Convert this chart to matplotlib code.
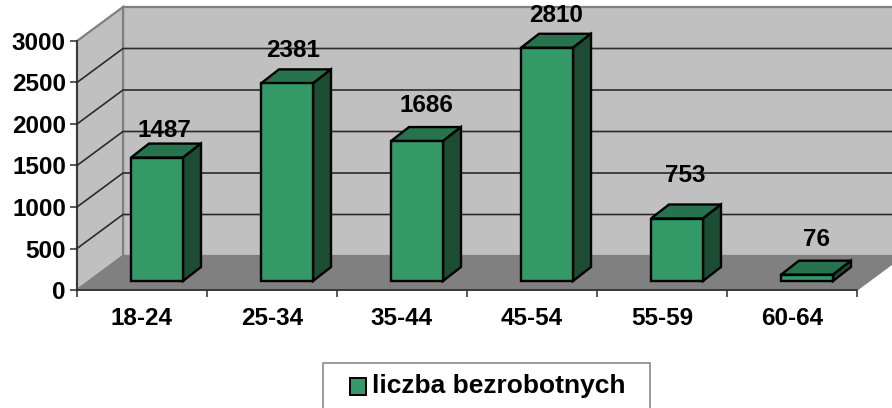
import matplotlib
matplotlib.use('Agg')
import matplotlib.pyplot as plt
from matplotlib.patches import Polygon, Rectangle

plt.rcParams['font.family'] = ['Liberation Sans', 'DejaVu Sans']
plt.rcParams['font.weight'] = 'bold'

categories = ['18-24', '25-34', '35-44', '45-54', '55-59', '60-64']
values = [1487, 2381, 1686, 2810, 753, 76]
y_ticks = [0, 500, 1000, 1500, 2000, 2500, 3000]
series_name = 'liczba bezrobotnych'

W, H = 892, 408
fig = plt.figure(figsize=(W / 100, H / 100), dpi=100)
ax = fig.add_axes([77 / W, (H - 290) / H, 780 / W, 249 / H])
ax.set_xlim(0, len(categories))
ax.set_ylim(0, 3000)
ax.patch.set_visible(False)

# pixel sizes converted to data units, the 3d look is just an offset
px_x = len(categories) / 780
px_y = 3000 / 249
depth_x = 46 * px_x
depth_y = 34 * px_y


def poly(points, **kw):
    ax.add_patch(Polygon(points, closed=True, clip_on=False, **kw))


# walls and floor
n = len(categories)
poly([(depth_x, depth_y), (n + depth_x, depth_y), (n + depth_x, 3000 + depth_y), (depth_x, 3000 + depth_y)],
     fc='#c0c0c0', ec='#808080', lw=1.6, zorder=1)
poly([(0, 0), (depth_x, depth_y), (depth_x, 3000 + depth_y), (0, 3000)],
     fc='#c0c0c0', ec='#808080', lw=1.6, zorder=1)
poly([(0, 0), (n, 0), (n + depth_x, depth_y), (depth_x, depth_y)],
     fc='#808080', ec='#808080', lw=1, zorder=2)

for t in y_ticks[1:-1]:
    ax.plot([0, depth_x, n + depth_x], [t, t + depth_y, t + depth_y], color='#2b2b2b', lw=1.2,
            clip_on=False, zorder=1.5, solid_joinstyle='miter')

# bars
bar_w = 52 * px_x
bar_dx = 18 * px_x
bar_dy = 14 * px_y
gap_x = 54 * px_x
gap_y = 9 * px_y
label_dx = [7, 6, 9, 9, 8, 9]
label_dy = [27, 33, 36, 32, 43, 35]
for i, v in enumerate(values):
    x0 = i + gap_x
    x1 = x0 + bar_w
    y0 = gap_y
    y1 = gap_y + v
    style = dict(ec='black', lw=1.7, joinstyle='miter', zorder=3)
    poly([(x0, y1), (x1, y1), (x1 + bar_dx, y1 + bar_dy), (x0 + bar_dx, y1 + bar_dy)], fc='#26734d', **style)
    poly([(x1, y0), (x1 + bar_dx, y0 + bar_dy), (x1 + bar_dx, y1 + bar_dy), (x1, y1)], fc='#1c4d33', **style)
    poly([(x0, y0), (x1, y0), (x1, y1), (x0, y1)], fc='#339966', **style)
    ax.annotate(str(v), ((x0 + x1) / 2, y1), xytext=(label_dx[i] * 0.72, label_dy[i] * 0.72),
                textcoords='offset points', ha='center', va='center', fontsize=17.5, color='black',
                annotation_clip=False, zorder=4)

# axes lines, ticks
for s in ['top', 'right']:
    ax.spines[s].set_visible(False)
for s in ['left', 'bottom']:
    ax.spines[s].set_color('#2b2b2b')
    ax.spines[s].set_linewidth(1.2)
    ax.spines[s].set_zorder(5)
ax.set_yticks(y_ticks)
ax.set_xticks(range(n + 1))
ax.set_xticklabels([])
ax.set_xticks([i + 0.5 for i in range(n)], categories, minor=True)
ax.tick_params(axis='x', which='major', length=5, width=1.1, color='#2b2b2b')
ax.tick_params(axis='x', which='minor', length=0, pad=12, labelsize=17.5)
ax.tick_params(axis='y', length=5, width=1.1, color='#2b2b2b', pad=3, labelsize=17.5)

# legend box runs off the bottom of the picture
fig.add_artist(Rectangle((323 / W, -0.05), 327 / W, (H - 363) / H + 0.05, transform=fig.transFigure,
                         fc='white', ec='#808080', lw=1.1))
fig.add_artist(Rectangle((350 / W, (H - 395) / H), 16 / W, 17 / H, transform=fig.transFigure,
                         fc='#339966', ec='black', lw=1.4))
fig.text(372 / W, (H - 386) / H, series_name, fontsize=19, va='center', ha='left', color='black')

fig.savefig('out.png', dpi=100)
plt.close(fig)
